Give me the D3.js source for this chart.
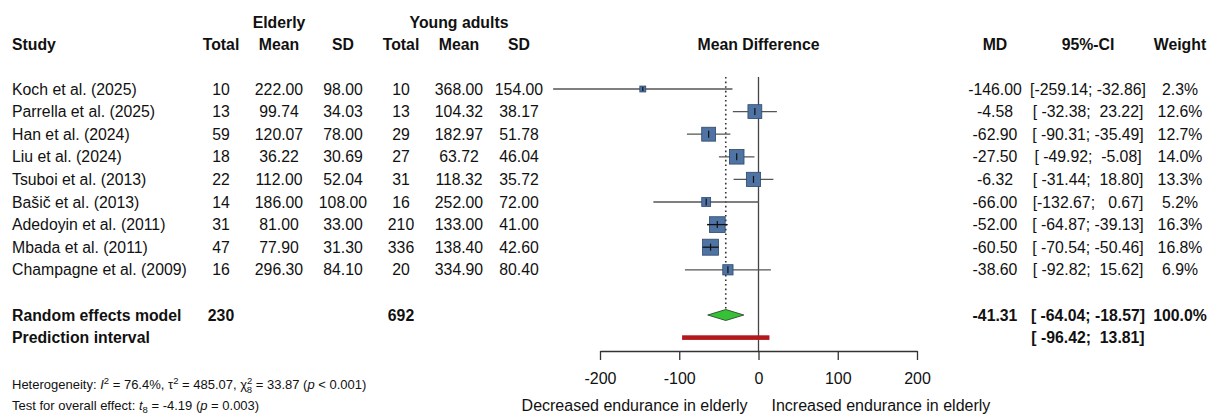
<!DOCTYPE html>
<html>
<head>
<meta charset="utf-8">
<script src="https://cdn.jsdelivr.net/npm/d3@7"></script>
<style>
  body { margin: 0; background: #fff; }
  svg { font-family: 'Liberation Sans', Arial, sans-serif; }
  text { white-space: pre; fill: #111; }
  .bold { font-weight: bold; }
</style>
</head>
<body>
<svg id="chart" width="1210" height="415"></svg>
<script>
// Study data
const studies = ['Koch et al. (2025)', 'Parrella et al. (2025)', 'Han et al. (2024)', 'Liu et al. (2024)',
  'Tsuboi et al. (2013)', 'Bašič et al. (2013)', 'Adedoyin et al. (2011)', 'Mbada et al. (2011)',
  'Champagne et al. (2009)'];
const elderlyTotal = [10, 13, 59, 18, 22, 14, 31, 47, 16];
const elderlyMean = [222.00, 99.74, 120.07, 36.22, 112.00, 186.00, 81.00, 77.90, 296.30];
const elderlySD = [98.00, 34.03, 78.00, 30.69, 52.04, 108.00, 33.00, 31.30, 84.10];
const youngTotal = [10, 13, 29, 27, 31, 16, 210, 336, 20];
const youngMean = [368.00, 104.32, 182.97, 63.72, 118.32, 252.00, 133.00, 138.40, 334.90];
const youngSD = [154.00, 38.17, 51.78, 46.04, 35.72, 72.00, 41.00, 42.60, 80.40];
const md = [-146.00, -4.58, -62.90, -27.50, -6.32, -66.00, -52.00, -60.50, -38.60];
const ciLower = [-259.14, -32.38, -90.31, -49.92, -31.44, -132.67, -64.87, -70.54, -92.82];
const ciUpper = [-32.86, 23.22, -35.49, -5.08, 18.80, 0.67, -39.13, -50.46, 15.62];
const weight = [2.3, 12.6, 12.7, 14.0, 13.3, 5.2, 16.3, 16.8, 6.9];

// Pooled results
const pooled = { md: -41.31, lower: -64.04, upper: -18.57, weight: 100.0, nE: 230, nY: 692 };
const predInterval = [-96.42, 13.81];
const xTicks = [-200, -100, 0, 100, 200];

const svg = d3.select('#chart');
const fs = 15.8;

// Plain hyphen as minus sign, like the R output
const locale = d3.formatLocale({ decimal: '.', thousands: ',', grouping: [3], currency: ['', ''], minus: '-' });
const fmt2 = locale.format('.2f');
const fmt1 = locale.format('.1f');
const fmtCI = (lo, hi) => '[' + fmt2(lo).padStart(7) + '; ' + fmt2(hi).padStart(6) + ']';

// Scales
const xScale = d3.scaleLinear().domain([-200, 200]).range([600, 917]);
const yRow = d3.scaleLinear().domain([0, 11]).range([89, 337.6]);
const sizeScale = d3.scaleSqrt().domain([0, d3.max(weight)]).range([0, 16]);

// Column centres
const col = { eTotal: 221, eMean: 279, eSD: 343, yTotal: 401, yMean: 459, ySD: 519, md: 995, ci: 1088, w: 1180 };

const addText = (x, y, str, anchor, bold, size) =>
  svg.append('text')
    .attr('x', x)
    .attr('y', y)
    .attr('text-anchor', anchor || 'middle')
    .attr('class', bold ? 'bold' : null)
    .style('font-size', (size || fs) + 'px')
    .text(str);

// Headers
addText(col.eMean, 28, 'Elderly', 'middle', true);
addText(col.yMean, 28, 'Young adults', 'middle', true);
addText(12, 50, 'Study', 'start', true);
[['eTotal', 'Total'], ['eMean', 'Mean'], ['eSD', 'SD'], ['yTotal', 'Total'], ['yMean', 'Mean'], ['ySD', 'SD'],
  ['md', 'MD'], ['ci', '95%-CI'], ['w', 'Weight']].forEach(([k, t]) => addText(col[k], 50, t, 'middle', true));
addText(d3.mean(xScale.range()), 50, 'Mean Difference', 'middle', true);

// Table rows
studies.forEach((s, i) => {
  const y = yRow(i) + 5.5;
  addText(12, y, s, 'start');
  addText(col.eTotal, y, elderlyTotal[i]);
  addText(col.eMean, y, fmt2(elderlyMean[i]));
  addText(col.eSD, y, fmt2(elderlySD[i]));
  addText(col.yTotal, y, youngTotal[i]);
  addText(col.yMean, y, fmt2(youngMean[i]));
  addText(col.ySD, y, fmt2(youngSD[i]));
  addText(col.md, y, fmt2(md[i]));
  addText(col.ci, y, fmtCI(ciLower[i], ciUpper[i]));
  addText(col.w, y, fmt1(weight[i]) + '%');
});

const yPooled = yRow(10);
const yPred = yRow(11);
addText(12, yPooled + 5.5, 'Random effects model', 'start', true);
addText(col.eTotal, yPooled + 5.5, pooled.nE, 'middle', true);
addText(col.yTotal, yPooled + 5.5, pooled.nY, 'middle', true);
addText(col.md, yPooled + 5.5, fmt2(pooled.md), 'middle', true);
addText(col.ci, yPooled + 5.5, fmtCI(pooled.lower, pooled.upper), 'middle', true);
addText(col.w, yPooled + 5.5, fmt1(pooled.weight) + '%', 'middle', true);
addText(12, yPred + 5.5, 'Prediction interval', 'start', true);
addText(col.ci, yPred + 5.5, fmtCI(predInterval[0], predInterval[1]), 'middle', true);

// Plot area
const plot = svg.append('g');
const yTop = 77;
const yAxis = 351;

// Zero line and pooled estimate line
plot.append('line')
  .attr('x1', xScale(0)).attr('x2', xScale(0))
  .attr('y1', yTop).attr('y2', yAxis)
  .style('stroke', '#444').style('stroke-width', 1.3);
plot.append('line')
  .attr('x1', xScale(pooled.md)).attr('x2', xScale(pooled.md))
  .attr('y1', yTop).attr('y2', yPooled - 6)
  .style('stroke', '#333').style('stroke-width', 1.6)
  .style('stroke-dasharray', '1.6,3');

// CI lines
const idx = d3.range(studies.length);
plot.selectAll('.ci')
  .data(idx)
  .enter()
  .append('line')
  .attr('x1', i => xScale(ciLower[i]))
  .attr('x2', i => xScale(ciUpper[i]))
  .attr('y1', i => yRow(i)).attr('y2', i => yRow(i))
  .style('stroke', '#555').style('stroke-width', 1.3);

// Squares
plot.selectAll('.sq')
  .data(idx)
  .enter()
  .append('rect')
  .attr('x', i => xScale(md[i]) - sizeScale(weight[i]) / 2)
  .attr('y', i => yRow(i) - sizeScale(weight[i]) / 2)
  .attr('width', i => sizeScale(weight[i]))
  .attr('height', i => sizeScale(weight[i]))
  .style('fill', '#4f74a4')
  .style('stroke', '#2f4868')
  .style('stroke-width', 0.8);

// CI inside square when it is about as narrow as the square
plot.selectAll('.inner')
  .data(idx.filter(i => xScale(ciUpper[i]) - xScale(ciLower[i]) < sizeScale(weight[i]) * 1.35))
  .enter()
  .append('line')
  .attr('x1', i => xScale(ciLower[i]))
  .attr('x2', i => xScale(ciUpper[i]))
  .attr('y1', i => yRow(i)).attr('y2', i => yRow(i))
  .style('stroke', '#111').style('stroke-width', 1.3);

// Point tick inside square
plot.selectAll('.tick-in')
  .data(idx)
  .enter()
  .append('line')
  .attr('x1', i => xScale(md[i])).attr('x2', i => xScale(md[i]))
  .attr('y1', i => yRow(i) - Math.min(3.5, sizeScale(weight[i]) / 2 - 1))
  .attr('y2', i => yRow(i) + Math.min(3.5, sizeScale(weight[i]) / 2 - 1))
  .style('stroke', '#111').style('stroke-width', 1.2);

// Diamond
const dh = 5.5;
plot.append('polygon')
  .attr('points', [[xScale(pooled.lower), yPooled], [xScale(pooled.md), yPooled - dh],
    [xScale(pooled.upper), yPooled], [xScale(pooled.md), yPooled + dh]].map(p => p.join(',')).join(' '))
  .style('fill', '#36c236')
  .style('stroke', '#2c4a2c')
  .style('stroke-width', 0.9);

// Prediction interval bar
plot.append('rect')
  .attr('x', xScale(predInterval[0]))
  .attr('y', yPred - 2.3)
  .attr('width', xScale(predInterval[1]) - xScale(predInterval[0]))
  .attr('height', 4.6)
  .style('fill', '#b3181d');

// Axis
const xAxisFunction = d3.axisBottom(xScale)
  .tickValues(xTicks)
  .tickFormat(locale.format('d'))
  .tickSize(9)
  .tickSizeOuter(0)
  .tickPadding(13);
const axisG = svg.append('g')
  .attr('transform', `translate(0, ${yAxis})`)
  .call(xAxisFunction);
axisG.select('.domain').style('stroke', '#333').style('stroke-width', 1.3);
axisG.selectAll('.tick line').style('stroke', '#333').style('stroke-width', 1.3);
axisG.selectAll('.tick text')
  .style('font-size', '16px')
  .style('font-family', "'Liberation Sans', Arial, sans-serif")
  .style('fill', '#111');

// Direction labels
addText(xScale(0) - 11, 411, 'Decreased endurance in elderly', 'end', false, 16);
addText(xScale(0) + 13, 411, 'Increased endurance in elderly', 'start', false, 16);

// Heterogeneity and test text
const hs = 13;
const het = svg.append('text').attr('x', 12).attr('y', 389).style('font-size', hs + 'px');
het.append('tspan').text('Heterogeneity: ');
het.append('tspan').style('font-style', 'italic').text('I');
het.append('tspan').attr('dy', -5).style('font-size', '9.5px').text('2');
het.append('tspan').attr('dy', 5).text(' = 76.4%, \u03c4');
het.append('tspan').attr('dy', -5).style('font-size', '9.5px').text('2');
het.append('tspan').attr('dy', 5).text(' = 485.07, \u03c7');
het.append('tspan').attr('dy', -5).style('font-size', '9.5px').text('2');
het.append('tspan').attr('dx', -5.5).attr('dy', 9).style('font-size', '9.5px').text('8');
het.append('tspan').attr('dy', -4).text(' = 33.87 (');
het.append('tspan').style('font-style', 'italic').text('p');
het.append('tspan').text(' < 0.001)');

const test = svg.append('text').attr('x', 12).attr('y', 410).style('font-size', hs + 'px');
test.append('tspan').text('Test for overall effect: ');
test.append('tspan').style('font-style', 'italic').text('t');
test.append('tspan').attr('dy', 3).style('font-size', '9.5px').text('8');
test.append('tspan').attr('dy', -3).text(' = -4.19 (');
test.append('tspan').style('font-style', 'italic').text('p');
test.append('tspan').text(' = 0.003)');
</script>
</body>
</html>
